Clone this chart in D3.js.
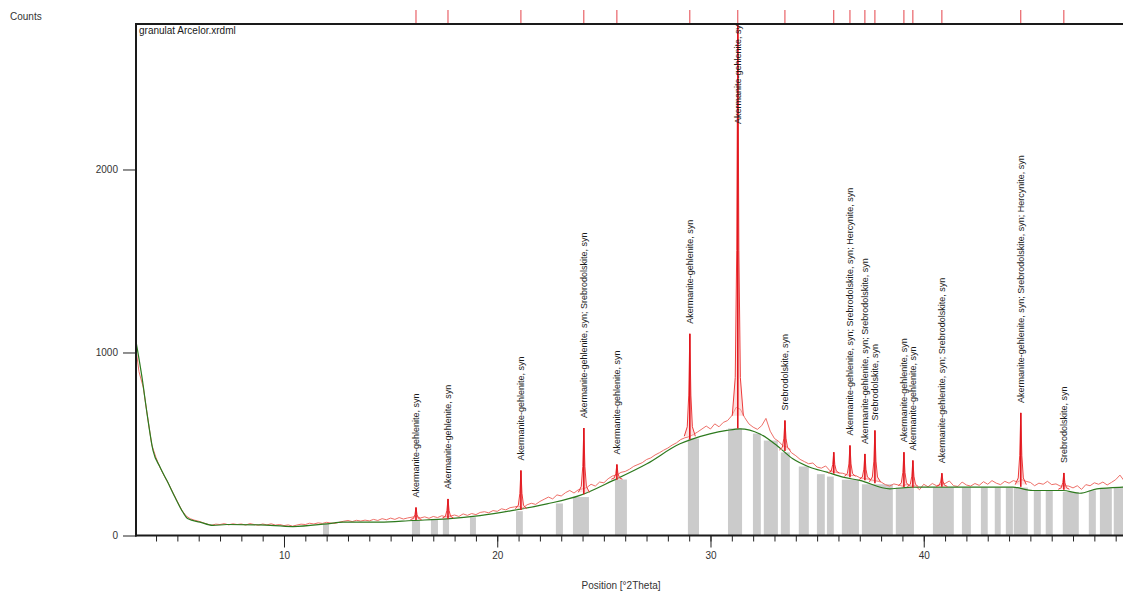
<!DOCTYPE html>
<html>
<head>
<meta charset="utf-8">
<script src="https://cdn.jsdelivr.net/npm/d3@7"></script>
<style>
  body { margin: 0; background: #fff; }
  svg { display: block; font-family: "Liberation Sans", Arial, sans-serif; }
</style>
</head>
<body>
<svg id="chart" width="1123" height="592"></svg>
<script>
// scan: start angle, step and measured counts
const scanStart = 3.0;
const scanStep = 0.2;
const scanCounts = [
  1070, 895, 810, 650, 495, 425, 368, 322, 280, 232,
  186, 140, 108, 92, 84, 78, 70, 62, 56, 62,
  60, 65, 58, 64, 60, 63, 57, 65, 60, 56,
  63, 58, 64, 57, 60, 54, 58, 51, 57, 62,
  60, 67, 63, 69, 66, 72, 68, 66, 73, 78,
  82, 76, 83, 79, 84, 80, 88, 82, 92, 86,
  95, 88, 98, 90, 96, 100, 104, 96, 102, 94,
  104, 98, 108, 102, 106, 112, 104, 118, 110, 120,
  114, 126, 130, 124, 136, 132, 146, 140, 152, 156,
  160, 150, 168, 176, 170, 186, 198, 210, 200, 222,
  216, 234, 246, 232, 250, 255, 262, 280, 270, 292,
  288, 310, 325, 330, 345, 350, 362, 378, 388, 398,
  415, 424, 440, 452, 466, 478, 494, 506, 524, 534,
  540, 552, 566, 582, 598, 582, 610, 594, 618, 628,
  655, 700, 690, 645, 610, 592, 580, 600, 640, 570,
  530, 514, 490, 482, 452, 436, 416, 404, 392, 396,
  374, 368, 380, 354, 348, 342, 340, 332, 328, 328,
  316, 312, 308, 302, 298, 292, 278, 270, 282, 276,
  270, 280, 270, 272, 250, 280, 266, 284, 272, 280,
  284, 298, 272, 268, 292, 276, 270, 284, 274, 294,
  280, 300, 286, 278, 296, 286, 300, 292, 305, 296,
  290, 272, 286, 280, 296, 278, 282, 270, 272, 270,
  260, 272, 252, 278, 272, 288, 280, 292, 276, 290,
  305, 330, 298, 285
];

// fitted background
const bgAngles = [3.06, 3.34, 3.58, 3.86, 4.19, 4.51, 4.89, 5.26, 5.5, 6.06, 6.67, 7.33, 8.87, 10.42,
  12.02, 12.77, 13.56, 14.5, 16.05, 17.64, 19.19, 20.74, 22.33, 23.88, 25.42, 27.02, 28.57,
  29.18, 29.97, 30.77, 31.38, 32.32, 33.11, 33.86, 34.66, 35.46, 36.21, 37.0, 38.41, 39.49,
  41.08, 42.63, 44.18, 45.11, 46.52, 47.32, 48.12, 49.33, 50];
const bgCounts = [1060, 865, 665, 464, 373, 300, 209, 127, 91, 73, 55, 60, 58, 49,
  64, 73, 73, 73, 82, 91, 109, 137, 173, 219, 300, 392, 501,
  528, 555, 574, 583, 555, 492, 419, 373, 346, 319, 301, 255, 264,
  264, 264, 264, 246, 246, 231, 255, 264, 266];

// identified peaks
const peakAngles = [16.19, 17.69, 21.11, 24.06, 25.61, 29.03, 31.28, 33.49, 35.78, 36.54,
  37.24, 37.71, 39.07, 39.49, 40.85, 44.55, 46.57];
const peakCounts = [153, 200, 355, 587, 388, 1102, 2900, 628, 455, 492,
  446, 574, 455, 410, 340, 670, 342];
const peakBase = [85, 92, 140, 225, 305, 525, 585, 462, 338, 318,
  302, 285, 265, 262, 266, 266, 250];
const peakLabels = [
  "Akermanite-gehlenite, syn",
  "Akermanite-gehlenite, syn",
  "Akermanite-gehlenite, syn",
  "Akermanite-gehlenite, syn; Srebrodolskite, syn",
  "Akermanite-gehlenite, syn",
  "Akermanite-gehlenite, syn",
  "Akermanite-gehlenite, syn",
  "Srebrodolskite, syn",
  "",
  "Akermanite-gehlenite, syn; Srebrodolskite, syn; Hercynite, syn",
  "Akermanite-gehlenite, syn; Srebrodolskite, syn",
  "Srebrodolskite, syn",
  "Akermanite-gehlenite, syn",
  "Akermanite-gehlenite, syn",
  "Akermanite-gehlenite, syn; Srebrodolskite, syn",
  "Akermanite-gehlenite, syn; Srebrodolskite, syn; Hercynite, syn",
  "Srebrodolskite, syn"
];

// grey regions: from, to, height
const regionFrom = [11.83, 16.0, 16.89, 17.45, 18.72, 20.88, 22.75, 23.55, 25.52, 28.94, 30.82,
  31.99, 32.5, 33.3, 34.14, 34.99, 35.46, 36.16, 37.1, 38.69, 40.43, 41.79, 42.68, 43.33,
  43.85, 44.22, 45.16, 45.72, 46.52, 47.74, 48.26, 48.91];
const regionTo = [12.11, 16.38, 17.22, 17.74, 19.0, 21.2, 23.08, 24.3, 26.08, 29.46, 31.48,
  32.36, 33.16, 33.72, 34.61, 35.36, 35.78, 36.96, 38.55, 39.54, 41.41, 42.21, 43.0, 43.61,
  44.18, 44.88, 45.49, 46.05, 47.27, 48.07, 48.82, 49.66];
const regionCounts = [64, 82, 86, 91, 100, 133, 175, 210, 306, 530, 585,
  557, 519, 454, 377, 335, 322, 305, 280, 262, 262, 262, 262, 262,
  262, 262, 248, 246, 238, 246, 258, 264];

const majorTicks = [10, 20, 30, 40];
const countTicks = [0, 1000, 2000];

const svg = d3.select("#chart");
const plotLeft = 136, plotTop = 24, plotBottom = 535.5;

const x = d3.scaleLinear().domain([3.06, 50]).range([plotLeft, 1137]);
const y = d3.scaleLinear().domain([0, 2795]).range([plotBottom, plotTop]);

svg.append("defs").append("clipPath").attr("id", "plot")
  .append("rect").attr("x", plotLeft).attr("y", plotTop).attr("width", 1000).attr("height", plotBottom - plotTop);

const plot = svg.append("g").attr("clip-path", "url(#plot)");

// grey regions
plot.append("g").selectAll("rect")
  .data(regionFrom)
  .enter().append("rect")
    .attr("x", (d, i) => x(d))
    .attr("width", (d, i) => x(regionTo[i]) - x(d))
    .attr("y", (d, i) => y(regionCounts[i]))
    .attr("height", (d, i) => y(0) - y(regionCounts[i]))
    .attr("fill", "#cbcbcb");

// measured scan
const scan = scanCounts.map((c, i) => [scanStart + i * scanStep, c]);
const line = d3.line().x(d => x(d[0])).y(d => y(d[1]));
plot.append("path")
  .attr("d", line(scan))
  .attr("fill", "none")
  .attr("stroke", "#ee6f68")
  .attr("stroke-width", 1);

// background
const smooth = d3.line().x(d => x(d[0])).y(d => y(d[1])).curve(d3.curveMonotoneX);
plot.append("path")
  .attr("d", smooth(bgAngles.map((a, i) => [a, bgCounts[i]])))
  .attr("fill", "none")
  .attr("stroke", "#2d7a1e")
  .attr("stroke-width", 1.2);

// peak profile glyph (angle offset, share of peak height)
const glyph = [[-0.26, 0.03], [-0.12, 0.12], [-0.05, 0.42], [0, 1], [0.05, 0.42], [0.12, 0.12], [0.26, 0.03]];
peakAngles.forEach((a, i) => {
  const h = peakCounts[i] - peakBase[i];
  plot.append("path")
    .attr("d", line(glyph.map(g => [a + g[0], peakBase[i] + g[1] * h])))
    .attr("fill", "#f7c4c2")
    .attr("fill-opacity", 0.5)
    .attr("stroke", "#ee3a3a")
    .attr("stroke-width", 1);
});

// peak sticks
plot.append("g").selectAll("line")
  .data(peakAngles)
  .enter().append("line")
    .attr("x1", d => x(d)).attr("x2", d => x(d))
    .attr("y1", (d, i) => y(peakBase[i]))
    .attr("y2", (d, i) => y(peakCounts[i]))
    .attr("stroke", "#e0161e")
    .attr("stroke-width", 1.6);

// peak labels
const labels = plot.append("g").selectAll("text")
  .data(peakAngles)
  .enter().append("text")
    .text((d, i) => peakLabels[i])
    .attr("font-size", 9)
    .attr("fill", "#1a1a1a")
    .attr("dy", "0.35em");
labels.each(function(d, i) {
  const len = this.getComputedTextLength();
  const ly = Math.max(y(peakCounts[i]) - 10, plotTop + len - 4);
  d3.select(this).attr("transform", "translate(" + x(d) + "," + ly + ") rotate(-90)");
});

// peak markers above the frame
svg.append("g").selectAll("line")
  .data(peakAngles)
  .enter().append("line")
    .attr("x1", d => x(d)).attr("x2", d => x(d))
    .attr("y1", 10).attr("y2", plotTop - 1)
    .attr("stroke", "#e4434a")
    .attr("stroke-width", 1);

// axes
const minorAxis = svg.append("g")
  .attr("transform", "translate(0," + plotBottom + ")")
  .call(d3.axisBottom(x).tickValues(d3.range(4, 50)).tickSize(6).tickFormat(""));
const majorAxis = svg.append("g")
  .attr("transform", "translate(0," + plotBottom + ")")
  .call(d3.axisBottom(x).tickValues(majorTicks).tickSize(12).tickPadding(4).tickFormat(d3.format("d")));
const yAxis = svg.append("g")
  .attr("transform", "translate(" + plotLeft + ",0)")
  .call(d3.axisLeft(y).tickValues(countTicks).tickSize(13).tickPadding(5).tickFormat(d3.format("d")));

[minorAxis, majorAxis, yAxis].forEach(g => {
  g.select(".domain").remove();
  g.selectAll("line").attr("stroke", "#222");
  g.selectAll("text").attr("fill", "#333").attr("font-size", 10).attr("font-family", "Liberation Sans, Arial, sans-serif");
});

// frame
svg.append("line").attr("x1", plotLeft - 1).attr("x2", 1123).attr("y1", plotTop).attr("y2", plotTop)
  .attr("stroke", "#1a1a1a").attr("stroke-width", 2);
svg.append("line").attr("x1", plotLeft).attr("x2", plotLeft).attr("y1", plotTop - 1).attr("y2", plotBottom + 1)
  .attr("stroke", "#1a1a1a").attr("stroke-width", 2);
svg.append("line").attr("x1", plotLeft - 1).attr("x2", 1123).attr("y1", plotBottom).attr("y2", plotBottom)
  .attr("stroke", "#1a1a1a").attr("stroke-width", 2);

// texts
svg.append("text").attr("x", 10).attr("y", 20).attr("font-size", 10).attr("fill", "#333").text("Counts");
svg.append("text").attr("x", 139).attr("y", 34).attr("font-size", 10).attr("fill", "#1a1a1a").text("granulat Arcelor.xrdml");
svg.append("text").attr("x", 621).attr("y", 589).attr("font-size", 10).attr("fill", "#333")
  .attr("text-anchor", "middle").text("Position [°2Theta]");
</script>
</body>
</html>
